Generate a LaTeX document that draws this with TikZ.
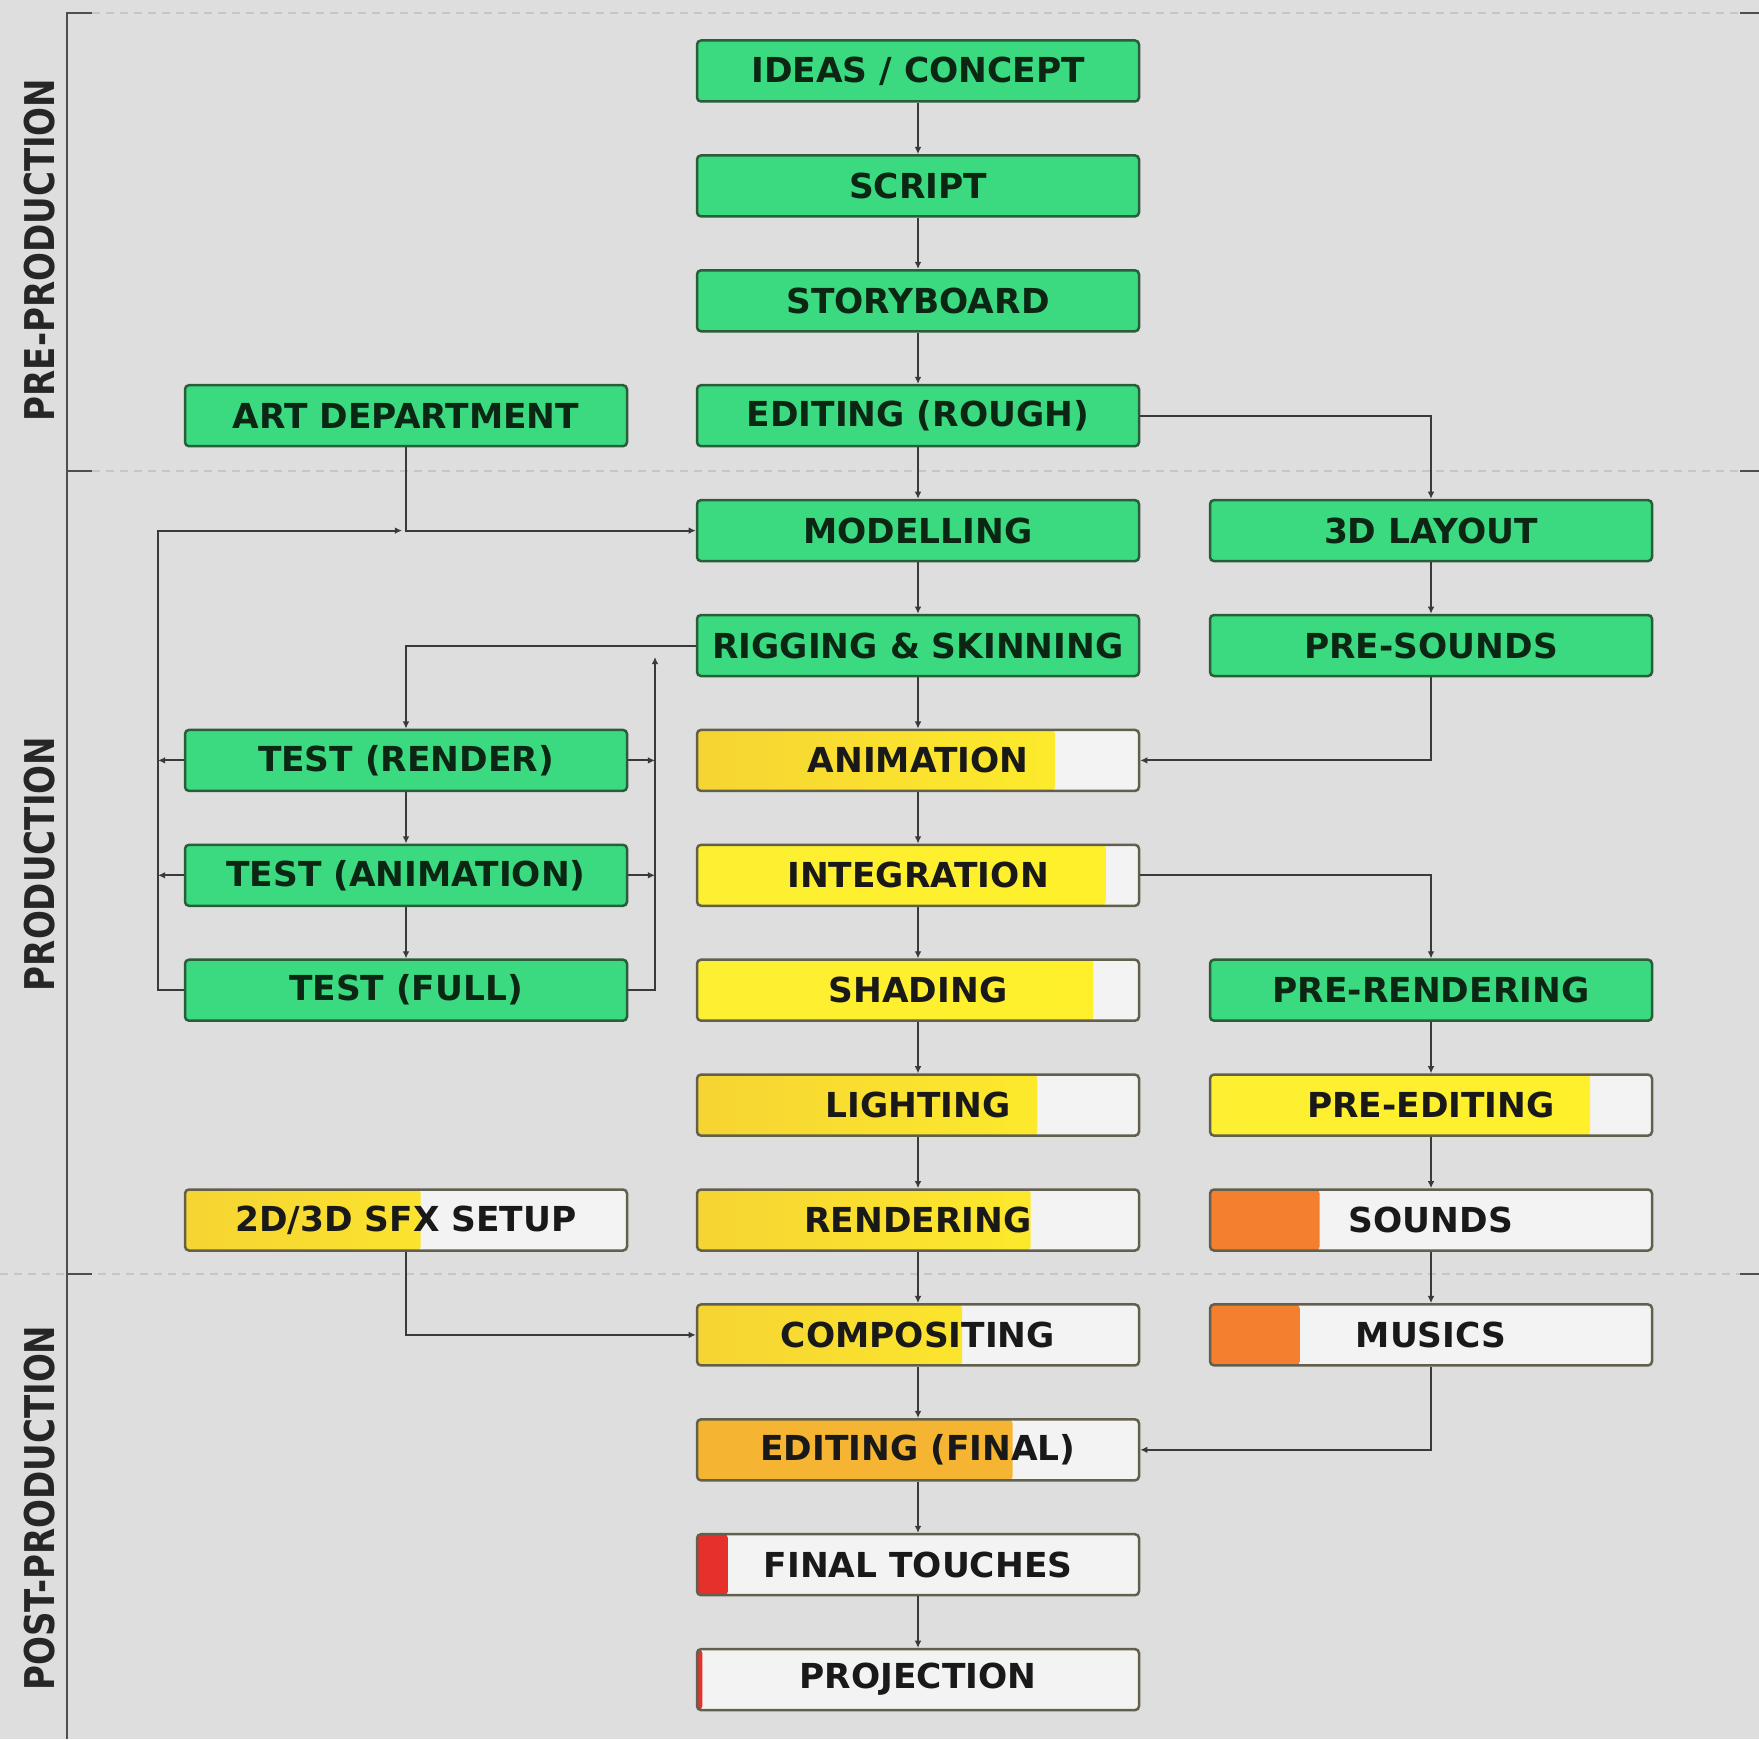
\documentclass[tikz,border=0pt]{standalone}
\usepackage{fontspec}
\setmainfont{DejaVu Sans}
\newfontfamily\labfont[FakeStretch=0.83]{DejaVu Sans}
\usetikzlibrary{arrows.meta,calc}
\definecolor{bg}{HTML}{DEDEDE}
\definecolor{grn}{HTML}{3CDA80}
\definecolor{grnb}{HTML}{2A5E3A}
\definecolor{txtg}{HTML}{0C2614}
\definecolor{boxb}{HTML}{62604C}
\definecolor{wht}{HTML}{F3F3F3}
\definecolor{yelA}{HTML}{F6D433}
\definecolor{yelB}{HTML}{FFF02A}
\definecolor{yelC}{HTML}{FDF032}
\definecolor{orgA}{HTML}{F5B532}
\definecolor{sndo}{HTML}{F47F2F}
\definecolor{redp}{HTML}{E5302C}
\definecolor{ln}{HTML}{3A3A3A}
\definecolor{dsh}{HTML}{C6C6C6}
\definecolor{lbl}{HTML}{262626}
\begin{document}
\begin{tikzpicture}[x=0.5pt,y=-0.5pt,
  box/.style={rounded corners=2pt, minimum width=221pt, minimum height=30.5pt,
    inner sep=0pt, line width=1.25pt, font=\bfseries\fontsize{17.2}{20}\selectfont},
  gbox/.style={box, draw=grnb, fill=grn, text=txtg},
  pbox/.style 2 args={box, draw=boxb, fill=wht, text=black!90,
    path picture={\fill[#2] (path picture bounding box.south west) rectangle
      ($(path picture bounding box.north west)!#1!(path picture bounding box.north east)$);}},
  cn/.style={draw=ln, line width=1pt},
  ar/.style={cn, -{Latex[length=3.6pt,width=3.4pt]}},
  sep/.style={draw=dsh, line width=1pt, dash pattern=on 4pt off 3pt},
  brk/.style={draw=ln!90, line width=1.3pt},
  lab/.style={rotate=90, text=lbl, font=\labfont\bfseries\fontsize{20.5}{24}\selectfont}
]
\useasboundingbox (0,0) rectangle (1759,1739);
\fill[bg] (0,0) rectangle (1759,1739);

% section separators and bracket
\draw[sep] (92,13) -- (1740,13);
\draw[sep] (92,471) -- (1740,471);
\draw[sep] (0,1274) -- (1740,1274);
\draw[brk] (92,13) -- (67,13) -- (67,1739);
\draw[brk] (67,471) -- (92,471);
\draw[brk] (67,1274) -- (92,1274);
\draw[brk] (1740,13) -- (1759,13);
\draw[brk] (1740,471) -- (1759,471);
\draw[brk] (1740,1274) -- (1759,1274);

\node[lab] (lpre) at (40,250) {PRE-PRODUCTION};
\node[lab] (lprod) at (40,864) {PRODUCTION};
\node[lab] (lpost) at (40,1508) {POST-PRODUCTION};

% centre column
\node[gbox] (ideas) at (918,71) {IDEAS / CONCEPT};
\node[gbox] (script) at (918,185.9) {SCRIPT};
\node[gbox] (story) at (918,300.8) {STORYBOARD};
\node[gbox] (edr) at (918,415.7) {EDITING (ROUGH)};
\node[gbox] (model) at (918,530.6) {MODELLING};
\node[gbox] (rig) at (918,645.5) {RIGGING \& SKINNING};
\node[pbox={0.81}{left color=yelA,right color=yelB}] (anim) at (918,760.4) {ANIMATION};
\node[pbox={0.925}{left color=yelC,right color=yelB}] (integ) at (918,875.3) {INTEGRATION};
\node[pbox={0.897}{left color=yelC,right color=yelB}] (shad) at (918,990.2) {SHADING};
\node[pbox={0.77}{left color=yelA,right color=yelB}] (light) at (918,1105.1) {LIGHTING};
\node[pbox={0.755}{left color=yelA,right color=yelB}] (rend) at (918,1220) {RENDERING};
\node[pbox={0.60}{left color=yelA,right color=yelB}] (comp) at (918,1334.9) {COMPOSITING};
\node[pbox={0.714}{fill=orgA}] (edf) at (918,1449.8) {EDITING (FINAL)};
\node[pbox={0.07}{fill=redp}] (fin) at (918,1564.7) {FINAL TOUCHES};
\node[pbox={0.012}{fill=redp}] (proj) at (918,1679.6) {PROJECTION};

% left column
\node[gbox] (art) at (406,415.7) {ART DEPARTMENT};
\node[gbox] (tr) at (406,760.4) {TEST (RENDER)};
\node[gbox] (ta) at (406,875.3) {TEST (ANIMATION)};
\node[gbox] (tf) at (406,990.2) {TEST (FULL)};
\node[pbox={0.533}{left color=yelA,right color=yelB}] (sfx) at (406,1220) {2D/3D SFX SETUP};

% right column
\node[gbox] (lay) at (1431,530.6) {3D LAYOUT};
\node[gbox] (pres) at (1431,645.5) {PRE-SOUNDS};
\node[gbox] (prer) at (1431,990.2) {PRE-RENDERING};
\node[pbox={0.86}{left color=yelC,right color=yelB}] (pree) at (1431,1105.1) {PRE-EDITING};
\node[pbox={0.248}{fill=sndo}] (snd) at (1431,1220) {SOUNDS};
\node[pbox={0.203}{fill=sndo}] (mus) at (1431,1334.9) {MUSICS};

% centre chain
\foreach \a/\b in {ideas/script,script/story,story/edr,edr/model,model/rig,rig/anim,
  anim/integ,integ/shad,shad/light,light/rend,rend/comp,comp/edf,edf/fin,fin/proj}
  \draw[ar] (\a) -- (\b);

% right side
\draw[ar] (edr.east) -| (lay.north);
\draw[ar] (lay) -- (pres);
\draw[ar] (pres.south) |- (anim.east);
\draw[ar] (integ.east) -| (prer.north);
\draw[ar] (prer) -- (pree);
\draw[ar] (pree) -- (snd);
\draw[ar] (snd) -- (mus);
\draw[ar] (mus.south) |- (edf.east);

% left side
\draw[ar] (sfx.south) |- (comp.west);
\draw[ar] (art.south) |- (model.west);
\coordinate (jn) at (art.south |- model.west);
\coordinate (lc) at (158,530.6);
\coordinate (rc) at (655,657);
\draw[ar] (tf.west) -| (lc) -- ($(jn)+(-4,0)$);
\draw[ar] (tr.west) -- (tr.west -| lc);
\draw[ar] (ta.west) -- (ta.west -| lc);
\draw[ar] (rig.west) -| (tr.north);
\draw[ar] (tr) -- (ta);
\draw[ar] (ta) -- (tf);
\draw[ar] (tf.east) -| (rc);
\draw[ar] (tr.east) -- (tr.east -| rc);
\draw[ar] (ta.east) -- (ta.east -| rc);
\end{tikzpicture}
\end{document}
